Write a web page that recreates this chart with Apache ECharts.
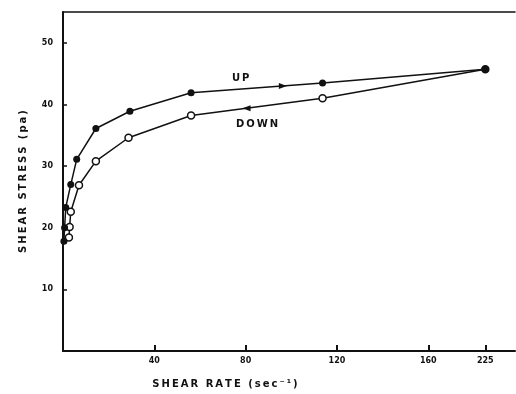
<!DOCTYPE html>
<html><head><meta charset="utf-8">
<script src="https://cdn.jsdelivr.net/npm/echarts@6/dist/echarts.min.js"></script>
<style>html,body{margin:0;padding:0;background:#fff}#c{width:516px;height:394px}</style>
</head><body><div id="c"></div>
<script>
// Shear rate positions as drawn (axis is broken: last point plotted at the "225" tick)
const upRate   = [0.4, 0.7, 1.2, 3.4, 6.0, 14.4, 29.3, 56.1, 113.7, 185];
const upStress = [17.8, 20.0, 23.3, 27.0, 31.1, 36.1, 38.9, 41.9, 43.5, 45.7];
const downRate   = [185, 113.7, 56.1, 28.7, 14.4, 7.0, 3.4, 2.9, 2.6];
const downStress = [45.7, 41.0, 38.2, 34.6, 30.8, 26.9, 22.6, 20.1, 18.4];
const xTickValues = [40, 80, 120, 160, 185];
const xTickLabels = ['40', '80', '120', '160', '225'];
const yTickValues = [10, 20, 30, 40, 50];

const sp = s => s.split('').join('\u2009');
const ink = '#111';
const font = 'DejaVu Sans';

const chart = echarts.init(document.getElementById('c'));
chart.setOption({
  animation: false,
  backgroundColor: '#fff',
  grid: { left: 63, right: 1, top: 12, bottom: 42 },
  xAxis: [{
    type: 'value', min: 0, max: 198,
    axisLine: { lineStyle: { color: ink, width: 2 } },
    axisTick: { inside: true, length: 6, customValues: xTickValues, lineStyle: { color: ink, width: 2 } },
    axisLabel: { customValues: xTickValues, color: ink, fontFamily: font, fontWeight: 'bold', fontSize: 8, margin: 6,
      formatter: v => xTickLabels[xTickValues.indexOf(v)] ?? '' },
    splitLine: { show: false },
    name: sp('SHEAR RATE (sec⁻¹)'), nameLocation: 'middle', nameGap: 28,
    nameTextStyle: { color: ink, fontFamily: font, fontWeight: 'bold', fontSize: 10, padding: [0, 128, 0, 0] }
  }, {
    type: 'value', position: 'top', min: 0, max: 198,
    axisLine: { show: true, lineStyle: { color: ink, width: 1.5 } },
    axisTick: { show: false }, axisLabel: { show: false }, splitLine: { show: false }
  }],
  yAxis: {
    type: 'value', min: 0, max: 55,
    axisLine: { lineStyle: { color: ink, width: 2 } },
    axisTick: { inside: true, length: 4, customValues: yTickValues, lineStyle: { color: ink, width: 1.5 } },
    axisLabel: { customValues: yTickValues, color: ink, fontFamily: font, fontWeight: 'bold', fontSize: 8, margin: 10 },
    splitLine: { show: false },
    name: sp('SHEAR STRESS (pa)'), nameLocation: 'middle', nameGap: 35,
    nameTextStyle: { color: ink, fontFamily: font, fontWeight: 'bold', fontSize: 10 }
  },
  series: [{
    name: 'DOWN', type: 'line', z: 2, data: downRate.map((x, i) => [x, downStress[i]]),
    symbol: 'circle', symbolSize: 7, itemStyle: { color: '#fff', borderColor: ink, borderWidth: 1.5 },
    lineStyle: { color: ink, width: 1.5 },
    markPoint: {
      symbol: 'triangle', symbolSize: [6, 8], symbolRotate: 90, itemStyle: { color: ink, borderWidth: 0 }, label: { show: false },
      data: [{ coord: [80.4, 39.4] }]
    }
  }, {
    name: 'UP', type: 'line', z: 3, data: upRate.map((x, i) => [x, upStress[i]]),
    symbol: 'circle', symbolSize: 7, itemStyle: { color: ink },
    lineStyle: { color: ink, width: 1.5 },
    markPoint: {
      symbol: 'triangle', symbolSize: [6, 8], symbolRotate: -90, itemStyle: { color: ink }, label: { show: false },
      data: [{ coord: [96.3, 43.0] }]
    }
  }],
  graphic: [
    { type: 'text', left: 232, top: 73, style: { text: sp('UP'), fill: ink, font: 'bold 10px "DejaVu Sans"' } },
    { type: 'text', left: 236, top: 119, style: { text: sp('DOWN'), fill: ink, font: 'bold 10px "DejaVu Sans"' } }
  ]
});
</script>
</body></html>
